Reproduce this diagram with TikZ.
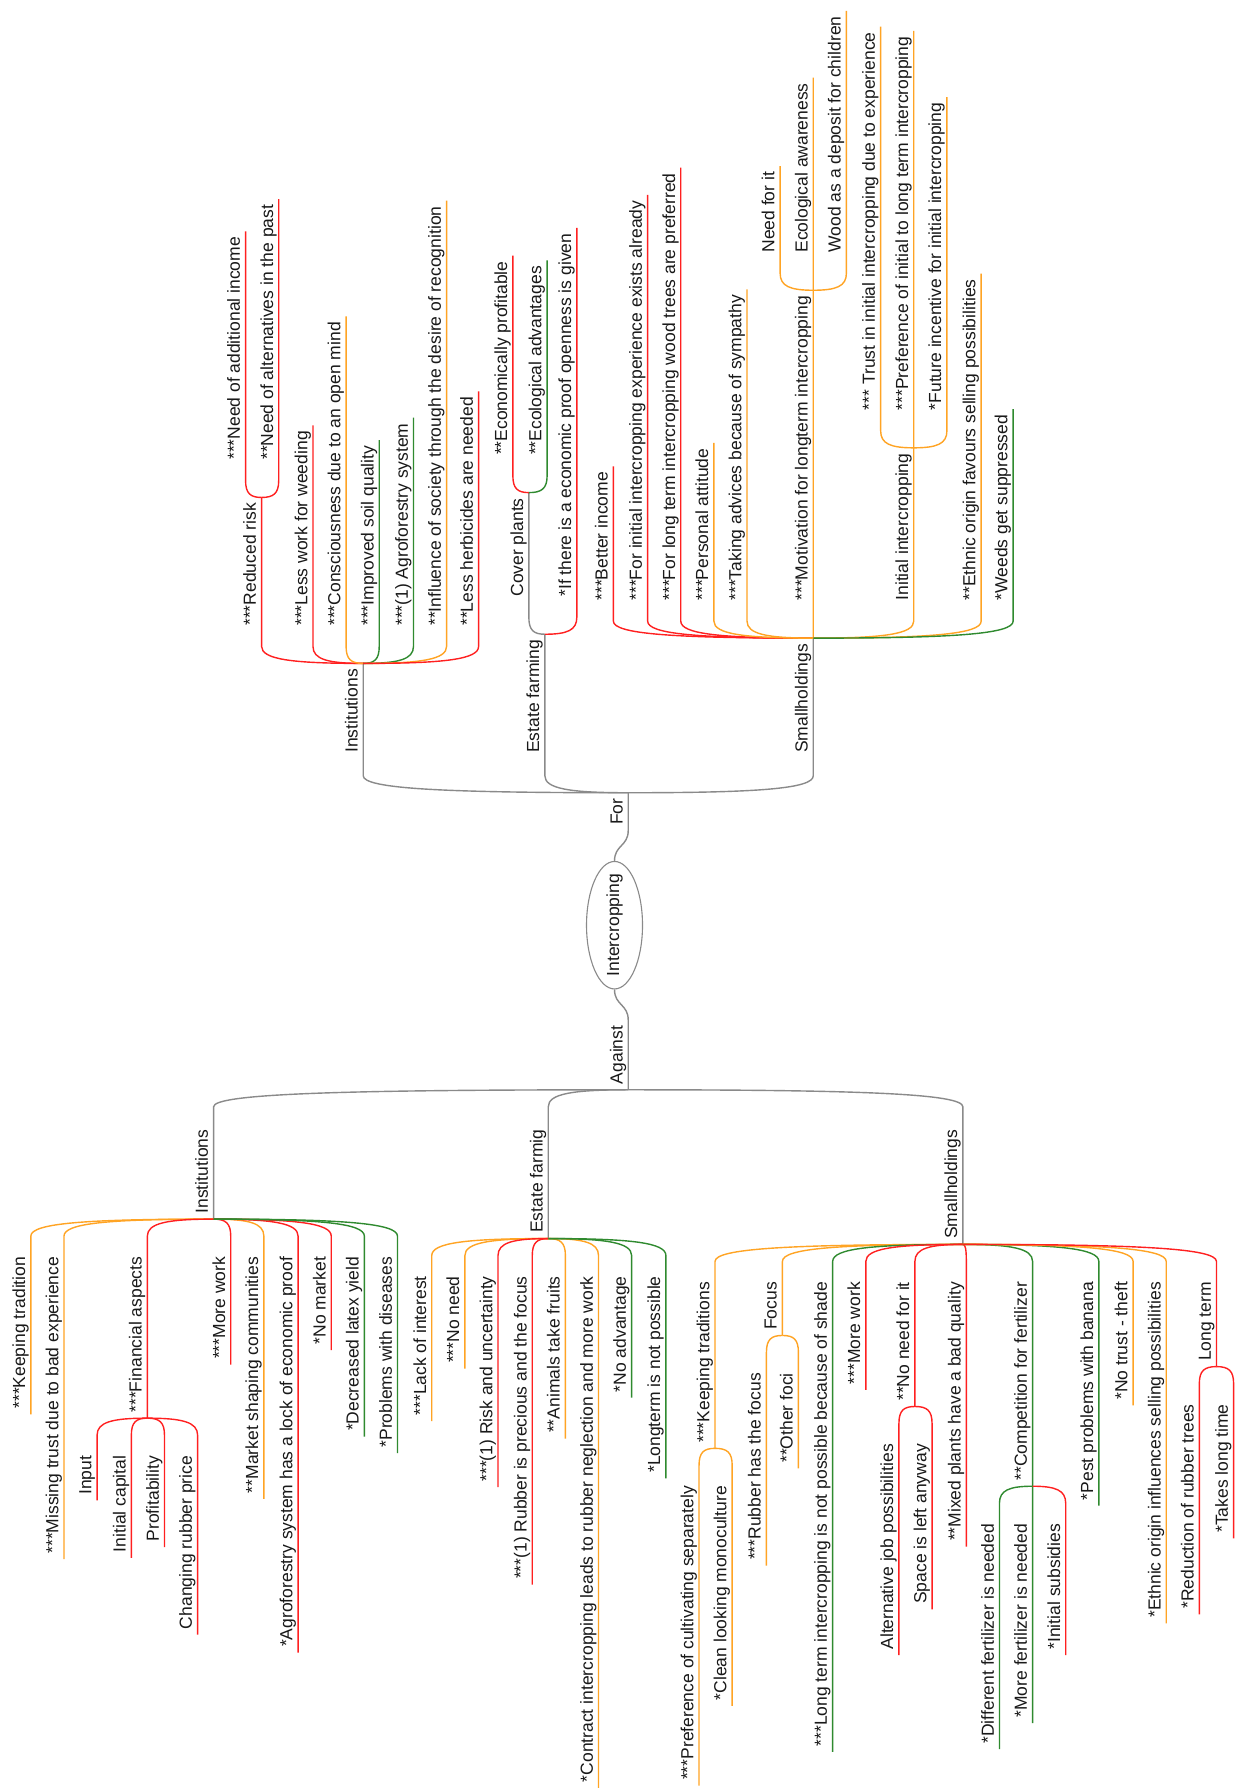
\documentclass[tikz,border=0pt]{standalone}
\usepackage{fontspec}
\setmainfont{Liberation Sans}
\usepackage{xcolor}
\usepackage{tikz}
\usetikzlibrary{shapes,calc}

\definecolor{branchRed}{HTML}{FF2020}
\definecolor{branchOrange}{HTML}{FFA424}
\definecolor{branchGreen}{HTML}{2F8A2F}
\definecolor{branchGray}{HTML}{8A8A8A}

\tikzstyle{forItem} = [rotate=90, anchor=south west, inner xsep=5pt, inner ysep=1pt, text height=13pt, text depth=4pt, font=\fontsize{17.5}{21}\selectfont, text=black!90]
\tikzstyle{againstItem} = [forItem, anchor=south east]
\tikzstyle{rootNode} = [ellipse, draw=branchGray, line width=1.1pt, rotate=90, inner xsep=-6pt, inner ysep=0pt, minimum height=56pt, font=\fontsize{17.5}{21}\selectfont, text=black!90]
\tikzstyle{curvedBranch} = [to path={.. controls ($(\tikztostart)!0.7!(\tikztostart -| \tikztotarget)$) and ($(\tikztostart -| \tikztotarget)!4pt!(\tikztotarget)$) .. ($(\tikztostart -| \tikztotarget)!17pt!(\tikztotarget)$) -- (\tikztotarget)}]

\begin{document}
\begin{tikzpicture}[x=1.1421pt, y=-1.1421pt, line width=1.4pt]

\useasboundingbox (0,0) rectangle (1084,1568);
\fill[white] (0,0) rectangle (1084,1568);

% root
\node[rootNode] (root) at (538,810) {Intercropping};
\node[forItem] (forLabel) at (550,727) {For};
\node[againstItem] (againstLabel) at (550,893) {Against};

% For
\node[forItem] (instFor) at ($(318,0 |- forLabel.south east)+(0,-30)$) {Institutions};
\node[forItem] (estateFor) at ($(477,0 |- forLabel.south east)+(0,-30)$) {Estate farming};
\node[forItem] (smallFor) at ($(712,0 |- forLabel.south east)+(0,-30)$) {Smallholdings};

\node[forItem] (reducedRisk) at ($(229,0 |- instFor.south east)+(0,-28)$) {***Reduced risk};
\node[forItem] (lessWork) at ($(274,0 |- instFor.south east)+(0,-28)$) {***Less work for weeding};
\node[forItem] (openMind) at ($(303,0 |- instFor.south east)+(0,-28)$) {***Consciousness due to an open mind};
\node[forItem] (soilQuality) at ($(332,0 |- instFor.south east)+(0,-28)$) {***Improved soil quality};
\node[forItem] (agroSystem) at ($(362,0 |- instFor.south east)+(0,-28)$) {***(1) Agroforestry system};
\node[forItem] (recognition) at ($(391,0 |- instFor.south east)+(0,-28)$) {**Influence of society through the desire of recognition};
\node[forItem] (herbicides) at ($(419,0 |- instFor.south east)+(0,-28)$) {**Less herbicides are needed};
\node[forItem] (addIncome) at ($(215,0 |- reducedRisk.south east)+(0,-28)$) {***Need of additional income};
\node[forItem] (altPast) at ($(244,0 |- reducedRisk.south east)+(0,-28)$) {**Need of alternatives in the past};

\node[forItem] (coverPlants) at ($(463,0 |- estateFor.south east)+(0,-28)$) {Cover plants};
\node[forItem] (openness) at ($(505,0 |- estateFor.south east)+(0,-28)$) {*If there is a economic proof openness is given};
\node[forItem] (profitable) at ($(449,0 |- coverPlants.south east)+(0,-28)$) {**Economically profitable};
\node[forItem] (ecoAdv) at ($(479,0 |- coverPlants.south east)+(0,-28)$) {**Ecological advantages};

\node[forItem] (betterIncome) at ($(537,0 |- smallFor.south east)+(0,-28)$) {***Better income};
\node[forItem] (initialExp) at ($(567,0 |- smallFor.south east)+(0,-28)$) {***For initial intercropping experience exists already};
\node[forItem] (woodTrees) at ($(596,0 |- smallFor.south east)+(0,-28)$) {***For long term intercropping wood trees are preferred};
\node[forItem] (attitude) at ($(625,0 |- smallFor.south east)+(0,-28)$) {***Personal attitude};
\node[forItem] (sympathy) at ($(654,0 |- smallFor.south east)+(0,-28)$) {***Taking advices because of sympathy};
\node[forItem] (motivation) at ($(712,0 |- smallFor.south east)+(0,-28)$) {***Motivation for longterm intercropping};
\node[forItem] (initialIc) at ($(800,0 |- smallFor.south east)+(0,-28)$) {Initial intercropping};
\node[forItem] (ethnicFor) at ($(859,0 |- smallFor.south east)+(0,-28)$) {**Ethnic origin favours selling possibilities};
\node[forItem] (weeds) at ($(887,0 |- smallFor.south east)+(0,-28)$) {*Weeds get suppressed};
\node[forItem] (needForIt) at ($(683,0 |- motivation.south east)+(0,-28)$) {Need for it};
\node[forItem] (ecoAware) at ($(712,0 |- motivation.south east)+(0,-28)$) {Ecological awareness};
\node[forItem] (woodDeposit) at ($(741,0 |- motivation.south east)+(0,-28)$) {Wood as a deposit for children};
\node[forItem] (trustInitial) at ($(771,0 |- initialIc.south east)+(0,-28)$) {*** Trust in initial intercropping due to experience};
\node[forItem] (prefInitial) at ($(800,0 |- initialIc.south east)+(0,-28)$) {***Preference of initial to long term intercropping};
\node[forItem] (futureIncentive) at ($(829,0 |- initialIc.south east)+(0,-28)$) {*Future incentive for initial intercropping};

% Against
\node[againstItem] (instAg) at ($(187,0 |- againstLabel.south west)+(0,30)$) {Institutions};
\node[againstItem] (estateAg) at ($(480,0 |- againstLabel.south west)+(0,30)$) {Estate farmig};
\node[againstItem] (smallAg) at ($(843,0 |- againstLabel.south west)+(0,30)$) {Smallholdings};

\node[againstItem] (keepTradition) at ($(27,0 |- instAg.south west)+(0,28)$) {***Keeping tradition};
\node[againstItem] (missingTrust) at ($(56,0 |- instAg.south west)+(0,28)$) {***Missing trust due to bad experience};
\node[againstItem] (financial) at ($(129,0 |- instAg.south west)+(0,28)$) {***Financial aspects};
\node[againstItem] (moreWorkInst) at ($(202,0 |- instAg.south west)+(0,28)$) {***More work};
\node[againstItem] (marketShaping) at ($(231,0 |- instAg.south west)+(0,28)$) {**Market shaping communities};
\node[againstItem] (lockProof) at ($(261,0 |- instAg.south west)+(0,28)$) {*Agroforestry system has a lock of economic proof};
\node[againstItem] (noMarket) at ($(290,0 |- instAg.south west)+(0,28)$) {*No market};
\node[againstItem] (latexYield) at ($(319,0 |- instAg.south west)+(0,28)$) {*Decreased latex yield};
\node[againstItem] (diseases) at ($(348,0 |- instAg.south west)+(0,28)$) {*Problems with diseases};
\node[againstItem] (input) at ($(85,0 |- financial.south west)+(0,28)$) {Input};
\node[againstItem] (initCapital) at ($(115,0 |- financial.south west)+(0,28)$) {Initial capital};
\node[againstItem] (profitability) at ($(144,0 |- financial.south west)+(0,28)$) {Profitability};
\node[againstItem] (rubberPrice) at ($(173,0 |- financial.south west)+(0,28)$) {Changing rubber price};

\node[againstItem] (lackInterest) at ($(378,0 |- estateAg.south west)+(0,28)$) {***Lack of interest};
\node[againstItem] (noNeed) at ($(407,0 |- estateAg.south west)+(0,28)$) {***No need};
\node[againstItem] (riskUncert) at ($(436,0 |- estateAg.south west)+(0,28)$) {***(1) Risk and uncertainty};
\node[againstItem] (rubberPrecious) at ($(466,0 |- estateAg.south west)+(0,28)$) {***(1) Rubber is precious and the focus};
\node[againstItem] (animals) at ($(495,0 |- estateAg.south west)+(0,28)$) {**Animals take fruits};
\node[againstItem] (contract) at ($(524,0 |- estateAg.south west)+(0,28)$) {*Contract intercropping leads to rubber neglection and more work};
\node[againstItem] (noAdvantage) at ($(553,0 |- estateAg.south west)+(0,28)$) {*No advantage};
\node[againstItem] (longtermNot) at ($(583,0 |- estateAg.south west)+(0,28)$) {*Longterm is not possible};

\node[againstItem] (keepTraditions) at ($(626,0 |- smallAg.south west)+(0,28)$) {***Keeping traditions};
\node[againstItem] (focus) at ($(685,0 |- smallAg.south west)+(0,28)$) {Focus};
\node[againstItem] (shade) at ($(729,0 |- smallAg.south west)+(0,28)$) {***Long term intercropping is not possible because of shade};
\node[againstItem] (moreWorkSmall) at ($(758,0 |- smallAg.south west)+(0,28)$) {***More work};
\node[againstItem] (noNeedForIt) at ($(801,0 |- smallAg.south west)+(0,28)$) {**No need for it};
\node[againstItem] (mixedPlants) at ($(846,0 |- smallAg.south west)+(0,28)$) {**Mixed plants have a bad quality};
\node[againstItem] (competition) at ($(904,0 |- smallAg.south west)+(0,28)$) {**Competition for fertilizer};
\node[againstItem] (pestBanana) at ($(962,0 |- smallAg.south west)+(0,28)$) {*Pest problems with banana};
\node[againstItem] (noTrust) at ($(992,0 |- smallAg.south west)+(0,28)$) {*No trust - theft};
\node[againstItem] (ethnicAg) at ($(1021,0 |- smallAg.south west)+(0,28)$) {*Ethnic origin influences selling possibilities};
\node[againstItem] (longTerm) at ($(1065,0 |- smallAg.south west)+(0,28)$) {Long term};
\node[againstItem] (separately) at ($(612,0 |- keepTraditions.south west)+(0,28)$) {***Preference of cultivating separately};
\node[againstItem] (monoculture) at ($(641,0 |- keepTraditions.south west)+(0,28)$) {*Clean looking monoculture};
\node[againstItem] (rubberFocus) at ($(671,0 |- focus.south west)+(0,28)$) {***Rubber has the focus};
\node[againstItem] (otherFoci) at ($(699,0 |- focus.south west)+(0,28)$) {**Other foci};
\node[againstItem] (altJob) at ($(787,0 |- noNeedForIt.south west)+(0,28)$) {Alternative job possibilities};
\node[againstItem] (spaceLeft) at ($(816,0 |- noNeedForIt.south west)+(0,28)$) {Space is left anyway};
\node[againstItem] (diffFert) at ($(875,0 |- competition.south west)+(0,28)$) {*Different fertilizer is needed};
\node[againstItem] (moreFert) at ($(904,0 |- competition.south west)+(0,28)$) {*More fertilizer is needed};
\node[againstItem] (subsidies) at ($(933,0 |- competition.south west)+(0,28)$) {*Initial subsidies};
\node[againstItem] (rubberReduction) at ($(1050,0 |- longTerm.south west)+(0,28)$) {*Reduction of rubber trees};
\node[againstItem] (longTime) at ($(1080,0 |- longTerm.south west)+(0,28)$) {*Takes long time};

% connectors
\draw[branchGray] (root.east) .. controls +(0,-14) and +(0,14) .. (forLabel.south west) -- (forLabel.south east);
\draw[branchGray] (root.west) .. controls +(0,14) and +(0,-14) .. (againstLabel.south east) -- (againstLabel.south west);

\draw[branchGray] (forLabel.south east) to[curvedBranch] (instFor.south west) -- (instFor.south east);
\draw[branchGray] (forLabel.south east) to[curvedBranch] (estateFor.south west) -- (estateFor.south east);
\draw[branchGray] (forLabel.south east) to[curvedBranch] (smallFor.south west) -- (smallFor.south east);

\draw[branchRed] (instFor.south east) to[curvedBranch] (reducedRisk.south west) -- (reducedRisk.south east);
\draw[branchRed] (instFor.south east) to[curvedBranch] (lessWork.south west) -- (lessWork.south east);
\draw[branchOrange] (instFor.south east) to[curvedBranch] (openMind.south west) -- (openMind.south east);
\draw[branchGreen] (instFor.south east) to[curvedBranch] (soilQuality.south west) -- (soilQuality.south east);
\draw[branchGreen] (instFor.south east) to[curvedBranch] (agroSystem.south west) -- (agroSystem.south east);
\draw[branchOrange] (instFor.south east) to[curvedBranch] (recognition.south west) -- (recognition.south east);
\draw[branchRed] (instFor.south east) to[curvedBranch] (herbicides.south west) -- (herbicides.south east);
\draw[branchRed] (reducedRisk.south east) to[curvedBranch] (addIncome.south west) -- (addIncome.south east);
\draw[branchRed] (reducedRisk.south east) to[curvedBranch] (altPast.south west) -- (altPast.south east);

\draw[branchGray] (estateFor.south east) to[curvedBranch] (coverPlants.south west) -- (coverPlants.south east);
\draw[branchRed] (estateFor.south east) to[curvedBranch] (openness.south west) -- (openness.south east);
\draw[branchRed] (coverPlants.south east) to[curvedBranch] (profitable.south west) -- (profitable.south east);
\draw[branchGreen] (coverPlants.south east) to[curvedBranch] (ecoAdv.south west) -- (ecoAdv.south east);

\draw[branchRed] (smallFor.south east) to[curvedBranch] (betterIncome.south west) -- (betterIncome.south east);
\draw[branchRed] (smallFor.south east) to[curvedBranch] (initialExp.south west) -- (initialExp.south east);
\draw[branchRed] (smallFor.south east) to[curvedBranch] (woodTrees.south west) -- (woodTrees.south east);
\draw[branchOrange] (smallFor.south east) to[curvedBranch] (attitude.south west) -- (attitude.south east);
\draw[branchOrange] (smallFor.south east) to[curvedBranch] (sympathy.south west) -- (sympathy.south east);
\draw[branchOrange] (smallFor.south east) to[curvedBranch] (motivation.south west) -- (motivation.south east);
\draw[branchOrange] (smallFor.south east) to[curvedBranch] (initialIc.south west) -- (initialIc.south east);
\draw[branchOrange] (smallFor.south east) to[curvedBranch] (ethnicFor.south west) -- (ethnicFor.south east);
\draw[branchGreen] (smallFor.south east) to[curvedBranch] (weeds.south west) -- (weeds.south east);
\draw[branchOrange] (motivation.south east) to[curvedBranch] (needForIt.south west) -- (needForIt.south east);
\draw[branchOrange] (motivation.south east) to[curvedBranch] (ecoAware.south west) -- (ecoAware.south east);
\draw[branchOrange] (motivation.south east) to[curvedBranch] (woodDeposit.south west) -- (woodDeposit.south east);
\draw[branchOrange] (initialIc.south east) to[curvedBranch] (trustInitial.south west) -- (trustInitial.south east);
\draw[branchOrange] (initialIc.south east) to[curvedBranch] (prefInitial.south west) -- (prefInitial.south east);
\draw[branchOrange] (initialIc.south east) to[curvedBranch] (futureIncentive.south west) -- (futureIncentive.south east);

\draw[branchGray] (againstLabel.south west) to[curvedBranch] (instAg.south east) -- (instAg.south west);
\draw[branchGray] (againstLabel.south west) to[curvedBranch] (estateAg.south east) -- (estateAg.south west);
\draw[branchGray] (againstLabel.south west) to[curvedBranch] (smallAg.south east) -- (smallAg.south west);

\draw[branchOrange] (instAg.south west) to[curvedBranch] (keepTradition.south east) -- (keepTradition.south west);
\draw[branchOrange] (instAg.south west) to[curvedBranch] (missingTrust.south east) -- (missingTrust.south west);
\draw[branchRed] (instAg.south west) to[curvedBranch] (financial.south east) -- (financial.south west);
\draw[branchRed] (instAg.south west) to[curvedBranch] (moreWorkInst.south east) -- (moreWorkInst.south west);
\draw[branchOrange] (instAg.south west) to[curvedBranch] (marketShaping.south east) -- (marketShaping.south west);
\draw[branchRed] (instAg.south west) to[curvedBranch] (lockProof.south east) -- (lockProof.south west);
\draw[branchRed] (instAg.south west) to[curvedBranch] (noMarket.south east) -- (noMarket.south west);
\draw[branchGreen] (instAg.south west) to[curvedBranch] (latexYield.south east) -- (latexYield.south west);
\draw[branchGreen] (instAg.south west) to[curvedBranch] (diseases.south east) -- (diseases.south west);
\draw[branchRed] (financial.south west) to[curvedBranch] (input.south east) -- (input.south west);
\draw[branchRed] (financial.south west) to[curvedBranch] (initCapital.south east) -- (initCapital.south west);
\draw[branchRed] (financial.south west) to[curvedBranch] (profitability.south east) -- (profitability.south west);
\draw[branchRed] (financial.south west) to[curvedBranch] (rubberPrice.south east) -- (rubberPrice.south west);

\draw[branchOrange] (estateAg.south west) to[curvedBranch] (lackInterest.south east) -- (lackInterest.south west);
\draw[branchOrange] (estateAg.south west) to[curvedBranch] (noNeed.south east) -- (noNeed.south west);
\draw[branchRed] (estateAg.south west) to[curvedBranch] (riskUncert.south east) -- (riskUncert.south west);
\draw[branchRed] (estateAg.south west) to[curvedBranch] (rubberPrecious.south east) -- (rubberPrecious.south west);
\draw[branchOrange] (estateAg.south west) to[curvedBranch] (animals.south east) -- (animals.south west);
\draw[branchOrange] (estateAg.south west) to[curvedBranch] (contract.south east) -- (contract.south west);
\draw[branchGreen] (estateAg.south west) to[curvedBranch] (noAdvantage.south east) -- (noAdvantage.south west);
\draw[branchGreen] (estateAg.south west) to[curvedBranch] (longtermNot.south east) -- (longtermNot.south west);

\draw[branchOrange] (smallAg.south west) to[curvedBranch] (keepTraditions.south east) -- (keepTraditions.south west);
\draw[branchOrange] (smallAg.south west) to[curvedBranch] (focus.south east) -- (focus.south west);
\draw[branchGreen] (smallAg.south west) to[curvedBranch] (shade.south east) -- (shade.south west);
\draw[branchRed] (smallAg.south west) to[curvedBranch] (moreWorkSmall.south east) -- (moreWorkSmall.south west);
\draw[branchRed] (smallAg.south west) to[curvedBranch] (noNeedForIt.south east) -- (noNeedForIt.south west);
\draw[branchRed] (smallAg.south west) to[curvedBranch] (mixedPlants.south east) -- (mixedPlants.south west);
\draw[branchGreen] (smallAg.south west) to[curvedBranch] (competition.south east) -- (competition.south west);
\draw[branchGreen] (smallAg.south west) to[curvedBranch] (pestBanana.south east) -- (pestBanana.south west);
\draw[branchOrange] (smallAg.south west) to[curvedBranch] (noTrust.south east) -- (noTrust.south west);
\draw[branchOrange] (smallAg.south west) to[curvedBranch] (ethnicAg.south east) -- (ethnicAg.south west);
\draw[branchRed] (smallAg.south west) to[curvedBranch] (longTerm.south east) -- (longTerm.south west);
\draw[branchOrange] (keepTraditions.south west) to[curvedBranch] (separately.south east) -- (separately.south west);
\draw[branchOrange] (keepTraditions.south west) to[curvedBranch] (monoculture.south east) -- (monoculture.south west);
\draw[branchOrange] (focus.south west) to[curvedBranch] (rubberFocus.south east) -- (rubberFocus.south west);
\draw[branchOrange] (focus.south west) to[curvedBranch] (otherFoci.south east) -- (otherFoci.south west);
\draw[branchRed] (noNeedForIt.south west) to[curvedBranch] (altJob.south east) -- (altJob.south west);
\draw[branchRed] (noNeedForIt.south west) to[curvedBranch] (spaceLeft.south east) -- (spaceLeft.south west);
\draw[branchGreen] (competition.south west) to[curvedBranch] (diffFert.south east) -- (diffFert.south west);
\draw[branchGreen] (competition.south west) to[curvedBranch] (moreFert.south east) -- (moreFert.south west);
\draw[branchRed] (competition.south west) to[curvedBranch] (subsidies.south east) -- (subsidies.south west);
\draw[branchRed] (longTerm.south west) to[curvedBranch] (rubberReduction.south east) -- (rubberReduction.south west);
\draw[branchRed] (longTerm.south west) to[curvedBranch] (longTime.south east) -- (longTime.south west);

\end{tikzpicture}
\end{document}
